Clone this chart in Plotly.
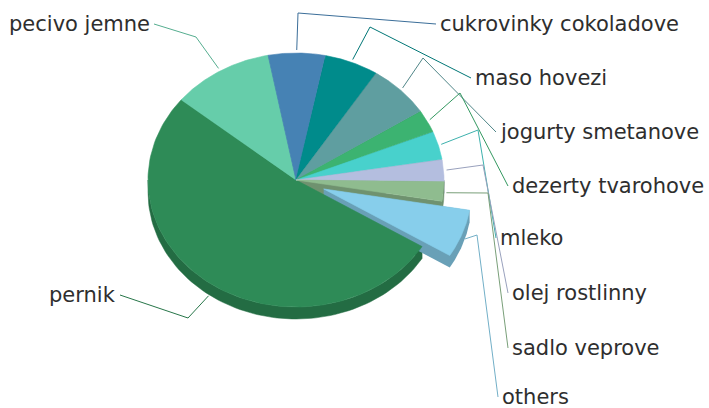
import numpy as np
import plotly.graph_objects as go

# ---- data -------------------------------------------------------------
categories = [
    "pernik", "pecivo jemne", "cukrovinky cokoladove", "maso hovezi",
    "jogurty smetanove", "dezerty tvarohove", "mleko", "olej rostlinny",
    "sadlo veprove", "others",
]
shares = [52.1, 11.1, 6.2, 5.9, 6.8, 2.9, 3.6, 2.8, 2.5, 6.1]
colors = [
    "#2e8b57", "#66cdaa", "#4682b4", "#008b8b", "#5f9ea0",
    "#3cb371", "#48d1cc", "#b4bedf", "#8fbc8f", "#87ceeb",
]
exploded = ["others"]

# ---- geometry of the tilted pie (pixel-like axis units) ----------------
W, H = 709, 408
CX, CY = 296, 180          # centre of the top face
RX, RY = 148, 127          # radii of the tilted disc
DEPTH = 12                 # thickness of the disc
START = -31.6              # angle where the first slice begins (deg, ccw from 3 o'clock)
PULL = 0.2                 # explode distance as fraction of radius

# label placement: text edge x, text centre y, anchor side, connector elbow
label_layout = {
    "pernik":                (118, 295, "right", 188, 318),
    "pecivo jemne":          (152, 24,  "right", 196, 37),
    "cukrovinky cokoladove": (438, 24,  "left",  298, 13),
    "maso hovezi":           (473, 78,  "left",  370, 27),
    "jogurty smetanove":     (498, 132, "left",  423, 58),
    "dezerty tvarohove":     (510, 186, "left",  460, 93),
    "mleko":                 (498, 238, "left",  478, 130),
    "olej rostlinny":        (510, 293, "left",  483, 165),
    "sadlo veprove":         (510, 348, "left",  488, 193),
    "others":                (500, 397, "left",  477, 235),
}


def shade(hex_color, f):
    h = hex_color.lstrip("#")
    r, g, b = (int(h[i:i + 2], 16) for i in (0, 2, 4))
    return "rgb(%d,%d,%d)" % (r * f, g * f, b * f)


def ellipse_pts(thetas, off=(0.0, 0.0), dy=0.0):
    t = np.radians(thetas)
    return CX + off[0] + RX * np.cos(t), CY + off[1] + dy - RY * np.sin(t)


def convex_hull(xs, ys):
    pts = sorted(set(zip(np.round(xs, 3), np.round(ys, 3))))

    def cross(o, a, b):
        return (a[0] - o[0]) * (b[1] - o[1]) - (a[1] - o[1]) * (b[0] - o[0])

    lower, upper = [], []
    for p in pts:
        while len(lower) >= 2 and cross(lower[-2], lower[-1], p) <= 0:
            lower.pop()
        lower.append(p)
    for p in reversed(pts):
        while len(upper) >= 2 and cross(upper[-2], upper[-1], p) <= 0:
            upper.pop()
        upper.append(p)
    hull = lower[:-1] + upper[:-1]
    return [p[0] for p in hull], [p[1] for p in hull]


def filled(xs, ys, color, lw=0.0):
    xs, ys = list(xs), list(ys)
    return go.Scatter(x=xs + [xs[0]], y=ys + [ys[0]], mode="lines", fill="toself",
                      fillcolor=color, line=dict(width=lw, color=color), hoverinfo="skip")


total = float(sum(shares))
slices = []
a = START
for name, val, col in zip(categories, shares, colors):
    span = 360.0 * val / total
    a0, a1 = a, a - span          # clockwise
    mid = (a0 + a1) / 2.0
    off = (0.0, 0.0)
    if name in exploded:
        off = (PULL * RX * np.cos(np.radians(mid)), -PULL * RY * np.sin(np.radians(mid)))
    slices.append(dict(name=name, a0=a0, a1=a1, mid=mid, off=off, color=col))
    a = a1

wall_traces, top_traces = [], []
for s in slices:
    th = np.linspace(s["a0"], s["a1"], 120)
    side = shade(s["color"], 0.78)
    cx0, cy0 = CX + s["off"][0], CY + s["off"][1]
    if s["name"] in exploded:
        tx, ty = ellipse_pts(th, s["off"])
        bx, by = ellipse_pts(th, s["off"], DEPTH)
        hx, hy = convex_hull(np.r_[tx, bx, cx0, cx0], np.r_[ty, by, cy0, cy0 + DEPTH])
        wall_traces.append(filled(hx, hy, side))
    else:
        # radial faces (only show where a neighbour has been pulled away)
        for edge in (s["a0"], s["a1"]):
            ex_, ey_ = ellipse_pts([edge])
            wall_traces.append(filled([cx0, ex_[0], ex_[0], cx0],
                                      [cy0, ey_[0], ey_[0] + DEPTH, cy0 + DEPTH], side))
        # outer wall where the arc faces the viewer (lower half of the disc)
        for k in (-1, 0, 1):
            lo = max(s["a1"], -180 + 360 * k)
            hi = min(s["a0"], 0 + 360 * k)
            if hi - lo > 0.01:
                ws = np.linspace(hi, lo, 80)
                tx, ty = ellipse_pts(ws)
                bx, by = ellipse_pts(ws[::-1], dy=DEPTH)
                wall_traces.append(filled(np.r_[tx, bx], np.r_[ty, by], side, 0.5))
    tx, ty = ellipse_pts(th, s["off"])
    top_traces.append(filled(np.r_[cx0, tx], np.r_[cy0, ty], s["color"], 0.6))

# connectors and labels
conn_traces, annotations = [], []
for s in slices:
    tx_, ty_, side_, ex, ey = label_layout[s["name"]]
    t = np.radians(s["mid"])
    ax = CX + s["off"][0] + (RX + 3) * np.cos(t)
    ay = CY + s["off"][1] - (RY + 3) * np.sin(t) + DEPTH * max(0.0, -np.sin(t))
    endx = tx_ - 2 if side_ == "left" else tx_ + 2
    conn_traces.append(go.Scatter(x=[ax, ex, endx], y=[ay, ey, ty_], mode="lines",
                                  line=dict(width=1, color=shade(s["color"], 0.85)),
                                  hoverinfo="skip"))
    annotations.append(dict(x=tx_, y=ty_, xref="x", yref="y", text=s["name"],
                            showarrow=False, xanchor=side_, yanchor="middle",
                            font=dict(family="DejaVu Sans", size=21, color="#2e2e2e")))

fig = go.Figure(conn_traces + wall_traces + top_traces)
fig.update_layout(
    width=W, height=H, margin=dict(l=0, r=0, t=0, b=0),
    paper_bgcolor="white", plot_bgcolor="white", showlegend=False,
    xaxis=dict(range=[0, W], visible=False, fixedrange=True),
    yaxis=dict(range=[H, 0], visible=False, fixedrange=True),
    annotations=annotations,
)
fig.write_html("out.html")
